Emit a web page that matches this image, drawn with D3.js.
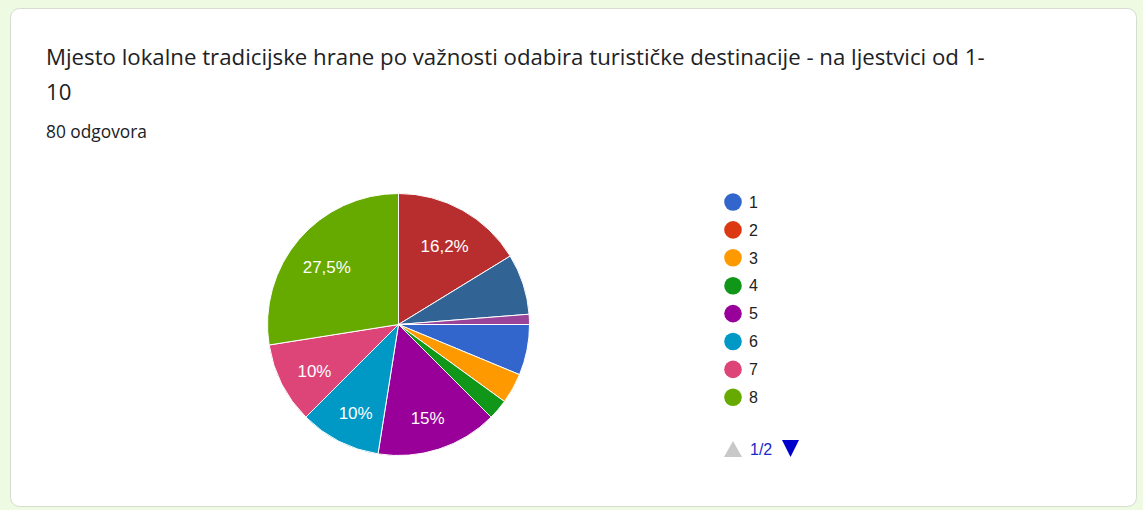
<!DOCTYPE html>
<html>
<head>
<meta charset="utf-8">
<script src="https://cdn.jsdelivr.net/npm/d3@7"></script>
<style>
  html, body { margin: 0; padding: 0; background: #eefbe2; }
  svg { display: block; }
</style>
</head>
<body>
<div id="chart"></div>
<script>
'use strict';
// odgovori po ocjeni (redoslijed kao u legendi)
var categories = ["1", "2", "3", "4", "5", "6", "7", "8", "9", "10", "11"];
var counts = [5, 0, 3, 2, 12, 8, 8, 22, 13, 6, 1];
var colors = ["#3366cc", "#dc3912", "#ff9900", "#109618", "#990099", "#0099c6",
              "#dd4477", "#66aa00", "#b82e2e", "#316395", "#994499"];
var titleLines = ["Mjesto lokalne tradicijske hrane po važnosti odabira turističke destinacije - na ljestvici od 1-", "10"];
var subtitle = "80 odgovora";
var legendPage = "1/2";
var legendPerPage = 8;

var width = 1143, height = 510;
var cx = 398.5, cy = 324.5, radius = 131;

var svg = d3.select("#chart").append("svg")
    .attr("width", width)
    .attr("height", height);

// kartica
svg.append("rect")
    .attr("x", 10.5).attr("y", 8.5)
    .attr("width", 1126).attr("height", 498)
    .attr("rx", 9).attr("ry", 9)
    .attr("fill", "#fff")
    .attr("stroke", "#d6dcd0");

// font se prilagodi sirini iz originala
function fitText(sel, node, targetWidth) {
  var fs = parseFloat(sel.attr("font-size"));
  var w = node.getComputedTextLength();
  if (w > 0) sel.attr("font-size", (fs * targetWidth / w).toFixed(2) + "px");
}

var title = svg.append("text")
    .attr("font-family", "'Open Sans', Roboto, sans-serif")
    .attr("font-size", "22px")
    .attr("fill", "#202124");
title.selectAll("tspan")
    .data(titleLines)
    .enter().append("tspan")
    .attr("x", 46)
    .attr("y", function(d, i) { return 65 + i * 35; })
    .text(function(d) { return d; });
fitText(title, title.select("tspan").node(), 939);

var sub = svg.append("text")
    .attr("x", 46).attr("y", 138)
    .attr("font-family", "'Open Sans', Roboto, sans-serif")
    .attr("font-size", "15px")
    .attr("fill", "#202124")
    .text(subtitle);
fitText(sub, sub.node(), 101);

// pita
var total = d3.sum(counts);
var data = categories.map(function(c, i) { return { cat: c, value: counts[i], color: colors[i] }; });

var pie = d3.pie()
    .sort(null)
    .value(function(d) { return d.value; })
    .startAngle(Math.PI / 2)
    .endAngle(Math.PI * 2.5);

var arc = d3.arc().innerRadius(0).outerRadius(radius);
var labelArc = d3.arc().innerRadius(radius * 0.72).outerRadius(radius * 0.72);

var g = svg.append("g").attr("transform", "translate(" + cx + "," + cy + ")");

var arcs = pie(data).filter(function(d) { return d.data.value > 0; });

g.selectAll("path")
    .data(arcs)
    .enter().append("path")
    .attr("d", arc)
    .attr("fill", function(d) { return d.data.color; })
    .attr("stroke", "#fff")
    .attr("stroke-width", 1);

function fmtPct(v) {
  var p = Math.floor(v / total * 1000 + 1e-6) / 10;
  return String(p).replace(".", ",") + "%";
}

g.selectAll("text.lbl")
    .data(arcs.filter(function(d) { return d.data.value / total >= 0.1; }))
    .enter().append("text")
    .attr("class", "lbl")
    .attr("transform", function(d) { return "translate(" + labelArc.centroid(d) + ")"; })
    .attr("text-anchor", "middle")
    .attr("dy", 10)
    .attr("font-family", "Arial, 'Liberation Sans', sans-serif")
    .attr("font-size", "17px")
    .attr("fill", "#fff")
    .text(function(d) { return fmtPct(d.data.value); });

// legenda
var legend = svg.append("g").attr("transform", "translate(733,202)");
var items = legend.selectAll("g")
    .data(data.slice(0, legendPerPage))
    .enter().append("g")
    .attr("transform", function(d, i) { return "translate(0," + (i * 27.9) + ")"; });

items.append("circle")
    .attr("r", 8.8)
    .attr("fill", function(d) { return d.color; });

items.append("text")
    .attr("x", 16)
    .attr("dy", "0.36em")
    .attr("font-family", "Arial, 'Liberation Sans', sans-serif")
    .attr("font-size", "16px")
    .attr("fill", "#222")
    .text(function(d) { return d.cat; });

// stranice legende
var pager = svg.append("g").attr("transform", "translate(733,449)");
pager.append("path")
    .attr("d", "M-9,8L0,-8L9,8Z")
    .attr("fill", "#c8c8c8");
pager.append("text")
    .attr("x", 17)
    .attr("dy", "0.36em")
    .attr("font-family", "Arial, 'Liberation Sans', sans-serif")
    .attr("font-size", "16px")
    .attr("fill", "#1a28c7")
    .text(legendPage);
pager.append("path")
    .attr("d", "M49,-9L66,-9L57.5,8Z")
    .attr("fill", "#0000cc");
</script>
</body>
</html>
